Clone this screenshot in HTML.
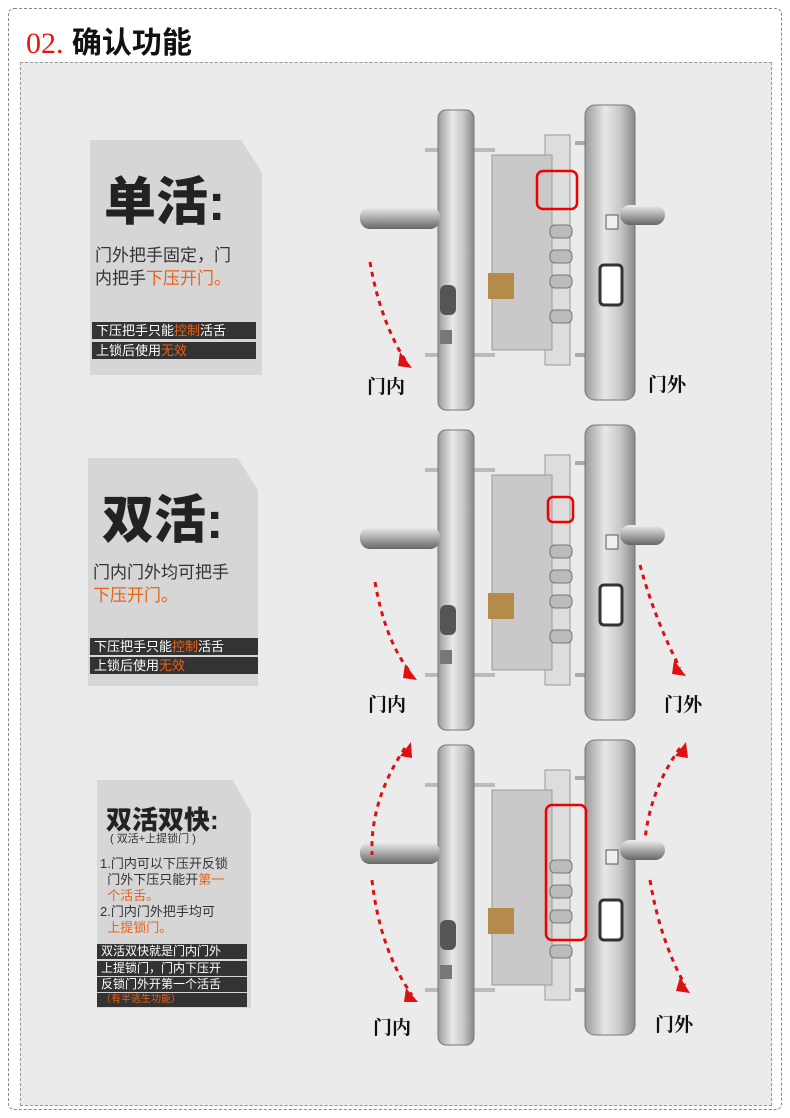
<!DOCTYPE html>
<html><head><meta charset="utf-8"><style>
body{margin:0;width:790px;height:1118px;background:#fff;font-family:"Liberation Sans","Noto Sans CJK SC",sans-serif;position:relative;overflow:hidden}
.outer{position:absolute;left:8px;top:8px;width:772px;height:1100px;border:1px dashed #888;border-radius:6px}
.title{position:absolute;left:26px;top:18px;font-size:30px;font-weight:bold;color:#111}
.title span{color:#e11;font-family:"Liberation Serif",serif;font-weight:normal}
.inner{position:absolute;left:20px;top:62px;width:750px;height:1042px;border:1px dashed #999;background:#ebebeb}
.card{position:absolute;background:#d6d6d6;clip-path:polygon(0 0,88% 0,100% 14%,100% 100%,0 100%)}
.big{position:absolute;font-weight:900;color:#222}
.t{position:absolute;color:#333;line-height:1.35}
.o{color:#e8621a}
.bar{position:absolute;background:#333;color:#fff;font-size:13px;line-height:17px;padding-left:4px;white-space:nowrap}
.lab{position:absolute;font-family:"Liberation Serif","Noto Serif CJK SC",serif;font-weight:bold;font-size:19px;color:#111}
</style></head><body>
<div class="outer"></div>
<div class="title"><span>02.</span> 确认功能</div>
<div class="inner"></div>

<div class="card" style="left:90px;top:140px;width:172px;height:235px"></div>
<div class="big" style="left:104px;top:160px;font-size:52px">单活:</div>
<div class="t" style="left:95px;top:245px;font-size:17px">门外把手固定，门<br>内把手<span class="o">下压开门。</span></div>
<div class="bar" style="left:92px;top:322px;width:160px">下压把手只能<span class="o">控制</span>活舌</div>
<div class="bar" style="left:92px;top:342px;width:160px">上锁后使用<span class="o">无效</span></div>

<div class="card" style="left:88px;top:458px;width:170px;height:228px"></div>
<div class="big" style="left:102px;top:478px;font-size:52px">双活:</div>
<div class="t" style="left:93px;top:562px;font-size:17px">门内门外均可把手<br><span class="o">下压开门。</span></div>
<div class="bar" style="left:90px;top:638px;width:164px">下压把手只能<span class="o">控制</span>活舌</div>
<div class="bar" style="left:90px;top:657px;width:164px">上锁后使用<span class="o">无效</span></div>

<div class="card" style="left:97px;top:780px;width:154px;height:228px"></div>
<div class="big" style="left:106px;top:800px;font-size:26px">双活双快:</div>
<div class="t" style="left:110px;top:832px;font-size:11px">( 双活+上提锁门 )</div>
<div class="t" style="left:100px;top:856px;font-size:13px;line-height:16px">1.门内可以下压开反锁<br>&nbsp;&nbsp;门外下压只能开<span class="o">第一</span><br>&nbsp;&nbsp;<span class="o">个活舌。</span><br>2.门内门外把手均可<br>&nbsp;&nbsp;<span class="o">上提锁门。</span></div>
<div class="bar" style="left:97px;top:944px;width:146px;font-size:12px;line-height:15px">双活双快就是门内门外</div>
<div class="bar" style="left:97px;top:961px;width:146px;font-size:12px;line-height:15px">上提锁门，门内下压开</div>
<div class="bar" style="left:97px;top:977px;width:146px;font-size:12px;line-height:15px">反锁门外开第一个活舌</div>
<div class="bar" style="left:97px;top:993px;width:146px;font-size:10px;line-height:14px;color:#e8621a">（有半逃生功能）</div>

<svg width="790" height="1118" style="position:absolute;left:0;top:0">
<defs>
<linearGradient id="pl" x1="0" x2="1"><stop offset="0" stop-color="#9a9a9a"/><stop offset=".4" stop-color="#e8e8e8"/><stop offset=".7" stop-color="#c8c8c8"/><stop offset="1" stop-color="#888"/></linearGradient>
<linearGradient id="hd" x1="0" y1="0" x2="0" y2="1"><stop offset="0" stop-color="#eee"/><stop offset=".5" stop-color="#aaa"/><stop offset="1" stop-color="#666"/></linearGradient>
<g id="lock">
<line x1="425" y1="45" x2="495" y2="45" stroke="#bbb" stroke-width="4"/>
<line x1="425" y1="250" x2="495" y2="250" stroke="#bbb" stroke-width="4"/>
<line x1="575" y1="38" x2="610" y2="38" stroke="#aaa" stroke-width="4"/>
<line x1="575" y1="250" x2="615" y2="250" stroke="#aaa" stroke-width="4"/>
<rect x="438" y="5" width="36" height="300" rx="8" fill="url(#pl)" stroke="#777"/>
<rect x="360" y="102" width="80" height="22" rx="10" fill="url(#hd)"/>
<rect x="440" y="180" width="16" height="30" rx="6" fill="#555"/>
<rect x="440" y="225" width="12" height="14" fill="#777"/>
<rect x="545" y="30" width="25" height="230" fill="#ddd" stroke="#999"/>
<rect x="492" y="50" width="60" height="195" fill="#c9c9c9" stroke="#999"/>
<rect x="488" y="168" width="26" height="26" fill="#b48b4a"/>
<rect x="550" y="120" width="22" height="13" rx="5" fill="#bbb" stroke="#777"/>
<rect x="550" y="145" width="22" height="13" rx="5" fill="#bbb" stroke="#777"/>
<rect x="550" y="170" width="22" height="13" rx="5" fill="#bbb" stroke="#777"/>
<rect x="550" y="205" width="22" height="13" rx="5" fill="#bbb" stroke="#777"/>
<rect x="585" y="0" width="50" height="295" rx="10" fill="url(#pl)" stroke="#777"/>
<rect x="620" y="100" width="45" height="20" rx="10" fill="url(#hd)"/>
<rect x="600" y="160" width="22" height="40" rx="4" fill="#fff" stroke="#333" stroke-width="3"/>
<rect x="606" y="110" width="12" height="14" fill="#eee" stroke="#555"/>
</g>
</defs>
<use href="#lock" transform="translate(0,105)"/>
<use href="#lock" transform="translate(0,425)"/>
<use href="#lock" transform="translate(0,740)"/>
<rect x="537" y="171" width="40" height="38" rx="6" fill="none" stroke="#e00" stroke-width="2.5"/>
<rect x="548" y="497" width="25" height="25" rx="5" fill="none" stroke="#e00" stroke-width="2.5"/>
<rect x="546" y="805" width="40" height="135" rx="6" fill="none" stroke="#e00" stroke-width="2.5"/>
<g fill="none" stroke="#d11" stroke-width="3" stroke-dasharray="5 5">
<path d="M370 262 Q380 320 405 360"/>
<path d="M375 582 Q385 640 410 672"/>
<path d="M640 565 Q655 620 680 668"/>
<path d="M405 748 Q370 800 372 855"/>
<path d="M372 880 Q380 950 412 995"/>
<path d="M680 748 Q650 790 645 840"/>
<path d="M650 880 Q660 940 685 985"/>
</g>
<g fill="#d11"><polygon points="400,352 412,368 398,366"/><polygon points="405,664 417,680 403,678"/><polygon points="674,660 686,676 672,674"/><polygon points="400,756 411,742 412,758"/><polygon points="406,988 418,1002 404,1002"/><polygon points="675,756 686,742 688,758"/><polygon points="680,977 690,993 676,991"/></g>
</svg>
<div class="lab" style="left:367px;top:372px">门内</div>
<div class="lab" style="left:648px;top:370px">门外</div>
<div class="lab" style="left:368px;top:690px">门内</div>
<div class="lab" style="left:664px;top:690px">门外</div>
<div class="lab" style="left:373px;top:1013px">门内</div>
<div class="lab" style="left:655px;top:1010px">门外</div>
</body></html>
